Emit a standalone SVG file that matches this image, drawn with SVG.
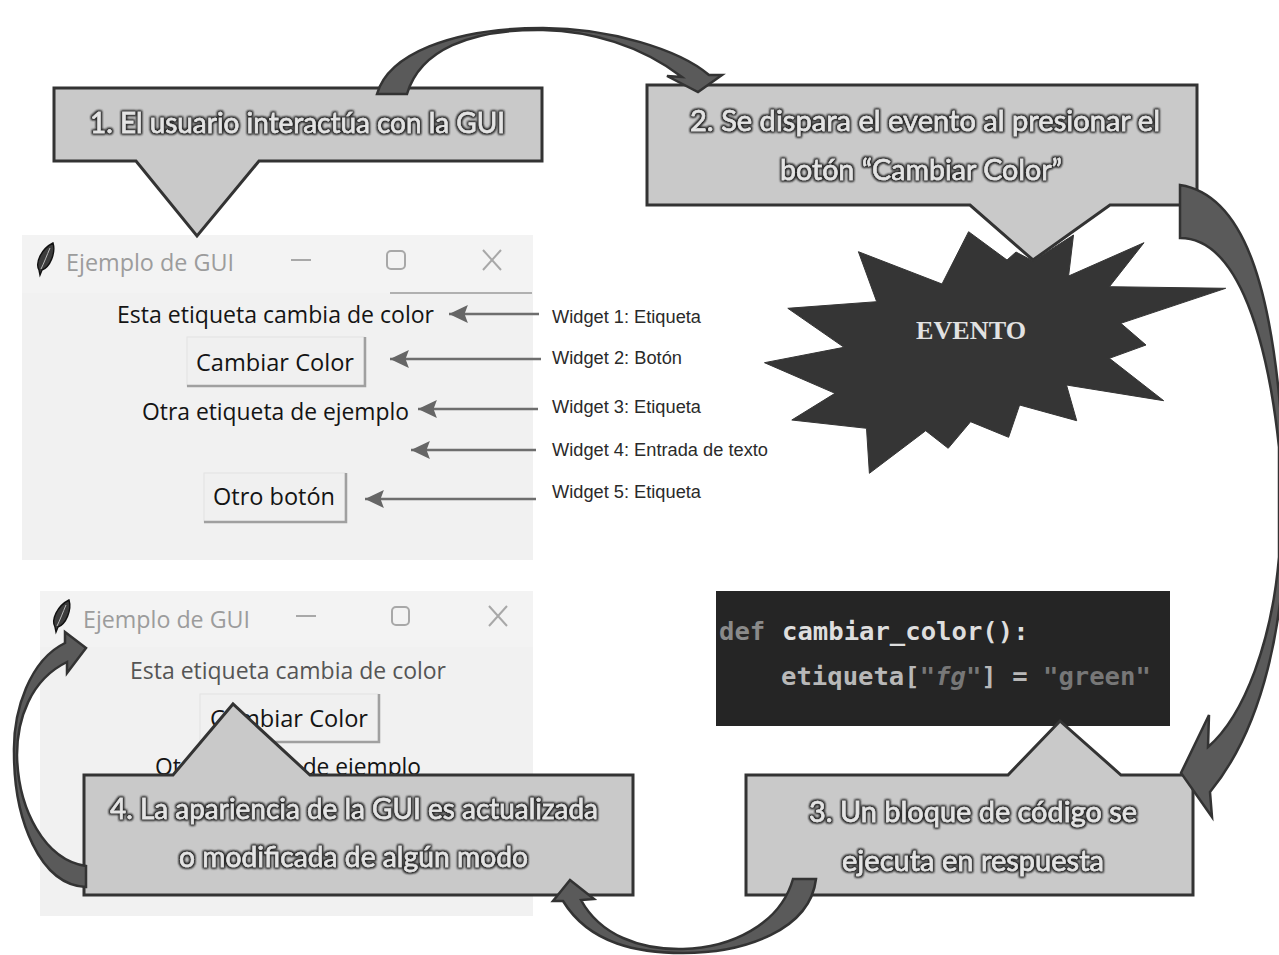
<svg xmlns="http://www.w3.org/2000/svg" xmlns:xlink="http://www.w3.org/1999/xlink" width="1279" height="955" viewBox="0 0 1279 955">
<style>
.win{fill:#f1f1f1}
.bar{fill:#f3f3f3}
.ttl{font-family:"Open Sans","Noto Sans",sans-serif;font-size:24px;fill:#9c9c9c}
.ui{font-family:"Open Sans","Noto Sans",sans-serif;font-size:24px;fill:#141414}
.ctl{fill:none;stroke:#a8a8a8;stroke-width:2}
.btn{fill:#f0f0f0;stroke:#e2e2e2;stroke-width:1}
.btnsh{fill:none;stroke:#a0a0a0;stroke-width:2.5}
.call{fill:#c9c9c9;stroke:#333;stroke-width:3;stroke-linejoin:miter}
.ct{font-family:Lato,"Open Sans",sans-serif;font-size:29px;fill:#e4e4e4;stroke:#e4e4e4;stroke-width:0.5px;filter:url(#halo)}
.big{fill:#5a5a5a;stroke:#333;stroke-width:2.5;stroke-linejoin:miter}
.lead{stroke:#6e6e6e;stroke-width:2.6;fill:none}
.wl{font-family:"Liberation Sans",Arial,sans-serif;font-size:17.5px;fill:#2a2a2a}
.code{font-family:"DejaVu Sans Mono","Liberation Mono",monospace;font-size:25.6px;font-weight:bold}
</style>
<defs>
<filter id="halo" x="-5%" y="-30%" width="110%" height="160%">
<feMorphology in="SourceAlpha" operator="dilate" radius="0.7" result="d"/>
<feGaussianBlur in="d" stdDeviation="1.3" result="b"/>
<feFlood flood-color="#2a2a2a"/>
<feComposite in2="b" operator="in" result="s"/>
<feMerge><feMergeNode in="s"/><feMergeNode in="s"/><feMergeNode in="SourceGraphic"/></feMerge>
</filter>
<marker id="head" markerUnits="userSpaceOnUse" markerWidth="20" markerHeight="20" refX="17" refY="9" orient="auto" viewBox="0 0 18 18">
<path d="M17,9 L0,1 L3,9 L0,17 Z" fill="#666"/>
</marker>
<g id="feather">
<path d="M16,0 C19,10 13,24 5,27 L3,32 L2,27 C-2,20 4,6 16,0 Z" fill="#3c3c3c" stroke="#111" stroke-width="1.4"/>
<path d="M13,5 C10,12 7,20 4,26" fill="none" stroke="#bbb" stroke-width="1"/>
</g>
</defs>
<rect width="1279" height="955" fill="#fff"/>

<g id="window-1">
<rect class="win" x="22" y="235" width="511" height="325"/>
<rect class="bar" x="22" y="235" width="511" height="58"/>
<line x1="390" y1="293" x2="532" y2="293" stroke="#b0b0b0" stroke-width="2"/>
<use xlink:href="#feather" href="#feather" x="37" y="243"/>
<text class="ttl" x="66" y="271" textLength="168" lengthAdjust="spacingAndGlyphs">Ejemplo de GUI</text>
<line class="ctl" x1="291" y1="260" x2="311" y2="260"/>
<rect class="ctl" x="387" y="251" width="18" height="18" rx="4"/>
<path class="ctl" d="M483,250 L501,270 M501,250 L483,270"/>
<text class="ui" x="117" y="323" textLength="317" lengthAdjust="spacingAndGlyphs">Esta etiqueta cambia de color</text>
<rect class="btn" x="187" y="337" width="177" height="49"/>
<path class="btnsh" d="M187,386 H365 V337"/>
<text class="ui" x="196" y="371" textLength="158" lengthAdjust="spacingAndGlyphs">Cambiar Color</text>
<text class="ui" x="142" y="420" textLength="267" lengthAdjust="spacingAndGlyphs">Otra etiqueta de ejemplo</text>
<rect class="btn" x="204" y="473" width="141" height="49"/>
<path class="btnsh" d="M204,522 H346 V473"/>
<text class="ui" x="213" y="505" textLength="122" lengthAdjust="spacingAndGlyphs">Otro botón</text>
</g>

<g id="window-2">
<rect class="win" x="40" y="591" width="493" height="325"/>
<rect class="bar" x="40" y="591" width="493" height="56"/>
<use xlink:href="#feather" href="#feather" x="53" y="600"/>
<text class="ttl" x="83" y="628" textLength="167" lengthAdjust="spacingAndGlyphs">Ejemplo de GUI</text>
<line class="ctl" x1="296" y1="616" x2="316" y2="616"/>
<rect class="ctl" x="392" y="607" width="17" height="18" rx="4"/>
<path class="ctl" d="M489,606 L507,626 M507,606 L489,626"/>
<text class="ui" x="130" y="679" textLength="316" lengthAdjust="spacingAndGlyphs" style="fill:#555">Esta etiqueta cambia de color</text>
<rect class="btn" x="200" y="694" width="178" height="48"/>
<path class="btnsh" d="M200,742 H379 V694"/>
<text class="ui" x="210" y="727" textLength="158" lengthAdjust="spacingAndGlyphs">Cambiar Color</text>
<text class="ui" x="155" y="775" textLength="266" lengthAdjust="spacingAndGlyphs">Otra etiqueta de ejemplo</text>
</g>

<g id="labels">
<text class="wl" x="552" y="323" textLength="149" lengthAdjust="spacingAndGlyphs">Widget 1: Etiqueta</text>
<text class="wl" x="552" y="364" textLength="130" lengthAdjust="spacingAndGlyphs">Widget 2: Botón</text>
<text class="wl" x="552" y="413" textLength="149" lengthAdjust="spacingAndGlyphs">Widget 3: Etiqueta</text>
<text class="wl" x="552" y="456" textLength="216" lengthAdjust="spacingAndGlyphs">Widget 4: Entrada de texto</text>
<text class="wl" x="552" y="498" textLength="149" lengthAdjust="spacingAndGlyphs">Widget 5: Etiqueta</text>
</g>

<g id="code-block">
<rect x="716" y="591" width="454" height="135" fill="#252525"/>
<text class="code" x="719" y="640" fill="#8a8a8a">def</text>
<text class="code" x="782" y="640" fill="#dedede">cambiar_color():</text>
<text class="code" x="781" y="685" fill="#b8b8b8">etiqueta[<tspan fill="#777" font-style="italic">"fg"</tspan>] = <tspan fill="#777">"green"</tspan></text>
</g>

<g id="callout-1">
<path class="call" d="M54,88 H542 V161 H259 L197,236 L136,161 H54 Z"/>
<text class="ct" x="90" y="133" textLength="415" lengthAdjust="spacingAndGlyphs">1. El usuario interactúa con la GUI</text>
</g>

<g id="callout-2">
<path class="call" d="M647,85 H1197 V205 H1110 L1033,260 L970,205 H647 Z"/>
<text class="ct" x="690" y="131" textLength="470" lengthAdjust="spacingAndGlyphs">2. Se dispara el evento al presionar el</text>
<text class="ct" x="780" y="180" textLength="282" lengthAdjust="spacingAndGlyphs">botón “Cambiar Color”</text>
</g>

<g id="evento">
<polygon fill="#353535" stroke="#353535" stroke-width="1" points="968.6,231.7 1007,260 1016,252 1033,261 1073.5,235 1068.6,276 1144,242.7 1109.4,286.7 1225.7,288.3 1120.8,323.3 1146,345 1109.4,358.3 1163.7,400.7 1066.5,385 1076.7,420.7 1019.6,405 1008.6,437.3 970.6,421.7 948.2,448.3 925.7,430.7 869.4,473.3 866.5,428.3 791.8,420 835,393.3 764.5,362.7 844,347.3 787.8,308.3 876.7,301.7 858.4,251.7 942,284"/>
<text x="916" y="339" font-family="'Liberation Serif','Times New Roman',serif" font-weight="bold" font-size="25px" fill="#e2e2e2" textLength="110" lengthAdjust="spacingAndGlyphs">EVENTO</text>
</g>

<g id="callout-3">
<path class="call" d="M746,775 H1008 L1060,721 L1121,775 H1193 V895 H746 Z"/>
<text class="ct" x="809" y="822" textLength="328" lengthAdjust="spacingAndGlyphs">3. Un bloque de código se</text>
<text class="ct" x="842" y="871" textLength="262" lengthAdjust="spacingAndGlyphs">ejecuta en respuesta</text>
</g>

<g id="callout-4">
<path class="call" d="M84,775 H173 L233,704 L310,775 H633 V895 H84 Z"/>
<text class="ct" x="110" y="819" textLength="488" lengthAdjust="spacingAndGlyphs">4. La apariencia de la GUI es actualizada</text>
<text class="ct" x="179" y="867" textLength="349" lengthAdjust="spacingAndGlyphs">o modificada de algún modo</text>
</g>

<g id="connectors">
<path class="big" d="M377,94 C388,55 450,28 543,28 C610,28 680,50 709,75 L722,75 L698,92 L667,76 L682,77 C640,45 590,31 543,30 C470,29 420,50 407,94 Z"/>
<path class="big" d="M1180,185 C1245,195 1272,290 1282,430 L1286,520 C1284,620 1265,725 1210,792 L1212,817 L1181,773 L1209,715 L1208,747 C1245,715 1272,640 1279,557 L1279,447 C1268,345 1240,238 1180,238 Z"/>
<path class="big" d="M793,879 C780,925 730,948 683,949 C640,950 600,935 581,900 L594,899 L570,880 L553,901 L563,901 C590,945 640,953 683,953 C745,953 810,930 816,879 Z"/>
<path class="big" d="M86,866 C45,860 18,810 17,755 C17,720 30,680 67,662 L67,673 L86,648 L65,632 L65,643 C30,660 13,710 14,753 C14,820 40,885 86,887 Z"/>
<line class="lead" x1="539" y1="314" x2="449" y2="314" marker-end="url(#head)"/>
<line class="lead" x1="541" y1="359" x2="390" y2="359" marker-end="url(#head)"/>
<line class="lead" x1="538" y1="409" x2="418" y2="409" marker-end="url(#head)"/>
<line class="lead" x1="536" y1="450" x2="411" y2="450" marker-end="url(#head)"/>
<line class="lead" x1="536" y1="499" x2="365" y2="499" marker-end="url(#head)"/>
</g>
</svg>
